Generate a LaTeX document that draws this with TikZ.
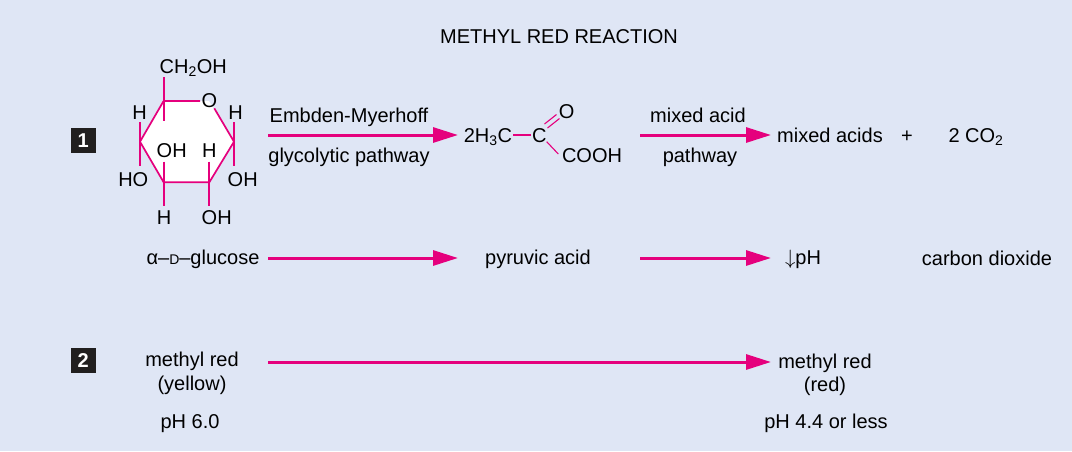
\documentclass[tikz,border=0pt]{standalone}
\usepackage{fontspec}
\setmainfont{Liberation Sans}
\usetikzlibrary{arrows.meta}
\definecolor{bluebg}{rgb}{0.875,0.902,0.961}
\definecolor{reactpink}{rgb}{0.9,0.0,0.49}
\definecolor{boxblack}{rgb}{0.13,0.12,0.12}
\newcommand{\subn}[1]{\textsubscript{#1}}
\tikzset{
lbl/.style={anchor=base,inner sep=0pt,font=\fontsize{20}{22}\selectfont,text=black},
rxn/.style={line width=3pt,color=reactpink,-{Triangle[length=25pt,width=15pt]}},
bond/.style={line width=1.7pt,color=reactpink},
thin bond/.style={line width=1.1pt,color=reactpink},
numbox/.style={fill=boxblack,text=white,minimum size=25.5pt,inner sep=0pt,font=\fontsize{20}{22}\selectfont\bfseries}
}
\begin{document}
\begin{tikzpicture}[line cap=butt,line join=round,x=1pt,y=-1pt]
\fill[bluebg] (0,0) rectangle (1072,451);
\useasboundingbox (0,0) rectangle (1072,451);
\node[lbl] (title) at (559,43) {METHYL RED REACTION};
\node[numbox] (one) at (83.3,140.7) {1};
\node[numbox] (two) at (83.3,360.7) {2};
\coordinate (ra) at (163.6,101);
\coordinate (rb) at (200,101);
\coordinate (rc) at (214.3,108.3);
\coordinate (rd) at (234,141.7);
\coordinate (re) at (209.3,182.3);
\coordinate (rf) at (163.7,182.3);
\coordinate (rg) at (140,141.7);
\fill[white] (ra) -- (209,101) -- (rd) -- (re) -- (rf) -- (rg) -- cycle;
\draw[bond] (rb) -- (ra) -- (rg) -- (rf) -- (re) -- (rd) -- (rc);
\coordinate (stema) at (164,77.3);
\coordinate (stemb) at (164,121);
\draw[bond] (stema) -- (stemb);
\foreach \x/\ya/\yb in {140/122.3/166,234/122.3/166,163.7/161.7/205.7,209.3/161.7/205.7}
\draw[bond] (\x,\ya) -- (\x,\yb);
\node[lbl] (chtwooh) at (193.3,73) {CH\subn{2}OH};
\node[lbl] (ringo) at (209.5,107) {O};
\node[lbl] (hleft) at (139.5,119.5) {H};
\node[lbl] (hright) at (235.5,119.5) {H};
\node[lbl] (ohin) at (171.7,157.5) {OH};
\node[lbl] (hin) at (209.3,157.5) {H};
\node[lbl] (hoout) at (133.3,186) {HO};
\node[lbl] (ohout) at (242.7,186) {OH};
\node[lbl] (hlow) at (164,224.5) {H};
\node[lbl] (ohlow) at (216.7,224.5) {OH};
\node[lbl] (embden) at (349,122) {Embden-Myerhoff};
\node[lbl] (glyco) at (349,162.5) {glycolytic pathway};
\coordinate (arrowas) at (268,135);
\coordinate (arrowae) at (458,135);
\draw[rxn] (arrowas) -- (arrowae);
\node[lbl] (methyl) at (488,142) {2H\subn{3}C};
\node[lbl] (carbon) at (539.3,142) {C};
\node[lbl] (oxo) at (566.7,118.5) {O};
\node[lbl] (cooh) at (592,162.5) {COOH};
\coordinate (ba) at (513.3,135);
\coordinate (bb) at (531,135);
\coordinate (bc) at (546.7,141.7);
\coordinate (bd) at (558.3,154);
\draw[thin bond] (ba) -- (bb);
\draw[thin bond] (bc) -- (bd);
\coordinate (da) at (544.5,124);
\coordinate (db) at (556.5,114.5);
\coordinate (dc) at (547.5,128);
\coordinate (dd) at (559.5,118.5);
\draw[thin bond] (da) -- (db);
\draw[thin bond] (dc) -- (dd);
\node[lbl] (mixedtop) at (698,122) {mixed acid};
\node[lbl] (mixedlow) at (700,162.5) {pathway};
\coordinate (arrowbs) at (640,135);
\coordinate (arrowbe) at (771,135);
\draw[rxn] (arrowbs) -- (arrowbe);
\node[lbl] (acids) at (830,142.5) {mixed acids};
\node[lbl] (plus) at (907,142.5) {+};
\node[lbl] (cotwo) at (976,142.5) {2 CO\subn{2}};
\node[lbl] (glucose) at (203,264.5) {α–{\fontsize{14}{16}\selectfont D}–glucose};
\coordinate (arrowcs) at (268,258);
\coordinate (arrowce) at (458,258);
\draw[rxn] (arrowcs) -- (arrowce);
\node[lbl] (pyruvic) at (538,264) {pyruvic acid};
\coordinate (arrowds) at (640,258);
\coordinate (arrowde) at (771,258);
\draw[rxn] (arrowds) -- (arrowde);
\node[lbl] (lowph) at (803,264.5) {$\downarrow$pH};
\node[lbl] (dioxide) at (987,265.5) {carbon dioxide};
\node[lbl] (redl) at (192,366.5) {methyl red};
\node[lbl] (yellow) at (192,390.5) {(yellow)};
\node[lbl] (phl) at (190,428.5) {pH 6.0};
\coordinate (arrowes) at (268,362);
\coordinate (arrowee) at (771,362);
\draw[rxn] (arrowes) -- (arrowee);
\node[lbl] (redr) at (825,368.5) {methyl red};
\node[lbl] (redcol) at (825,391.5) {(red)};
\node[lbl] (phr) at (826,428.5) {pH 4.4 or less};
\end{tikzpicture}
\end{document}
